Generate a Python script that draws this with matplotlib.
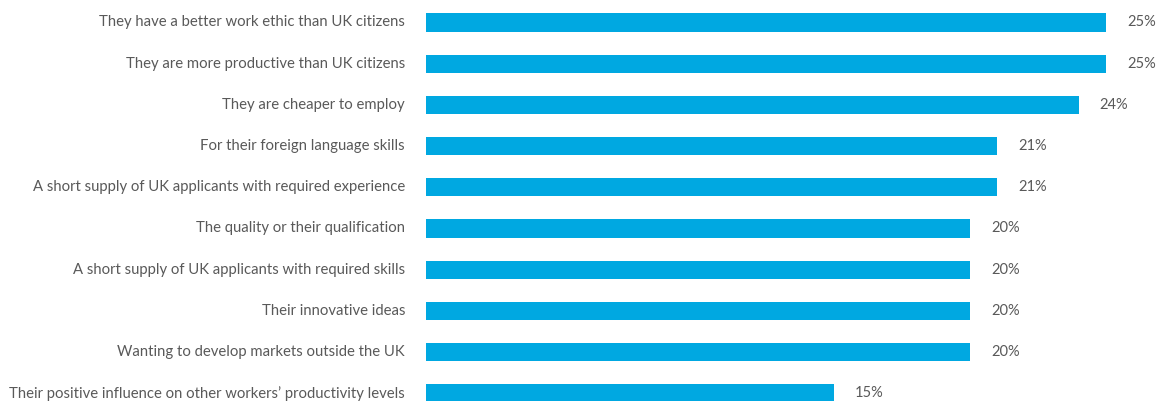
import numpy as np
import matplotlib.pyplot as plt

# reasons for employing non-UK workers (share of employers, %)
labels = [
    "They have a better work ethic than UK citizens",
    "They are more productive than UK citizens",
    "They are cheaper to employ",
    "For their foreign language skills",
    "A short supply of UK applicants with required experience",
    "The quality or their qualification",
    "A short supply of UK applicants with required skills",
    "Their innovative ideas",
    "Wanting to develop markets outside the UK",
    "Their positive influence on other workers\u2019 productivity levels",
]
values = [25, 25, 24, 21, 21, 20, 20, 20, 20, 15]

bar_color = "#00A8E1"
text_color = "#595959"

plt.rcParams['font.family'] = ['Lato', 'DejaVu Sans']

fig = plt.figure(figsize=(11.56, 4.01), dpi=100)
ax = fig.add_axes([426 / 1156, 0, 1 - 426 / 1156, 1])

y = np.arange(len(values))
ax.barh(y, values, height=0.44, color=bar_color)

# value labels to the right of each bar
for yi, v in zip(y, values):
    ax.annotate(f"{v}%", (v, yi), xytext=(21, 0), textcoords='offset pixels',
                ha='left', va='center', fontsize=10.5, color=text_color)

# category labels on the left of the axes
for yi, lab in zip(y, labels):
    ax.annotate(lab, (0, yi), xycoords=('axes fraction', 'data'), xytext=(-21, 0),
                textcoords='offset pixels', ha='right', va='center',
                fontsize=10.7, color=text_color, annotation_clip=False)

ax.set_xlim(0, (1156 - 426) / 27.2)
ax.set_ylim(9.187, -0.546)
ax.axis('off')

fig.savefig('out.png', dpi=100)
